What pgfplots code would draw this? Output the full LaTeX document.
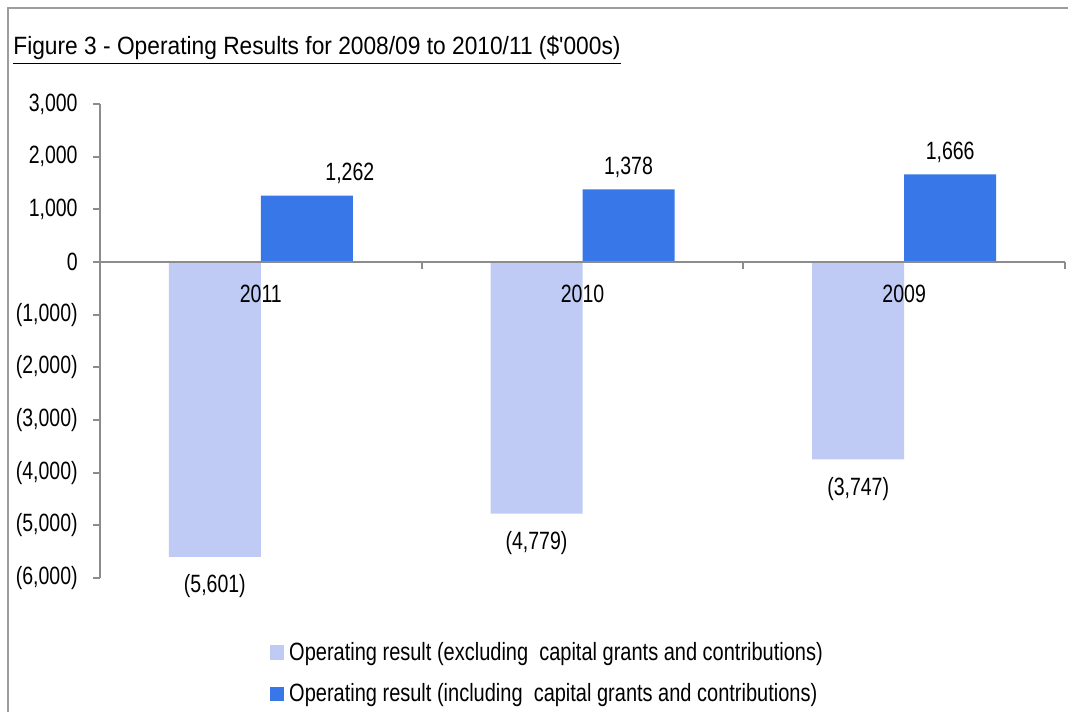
\documentclass[border=0pt]{standalone}
\usepackage{pgfplots}
\usepackage{pgfplotstable}
\pgfplotsset{compat=1.18}
\usepackage{fontspec}
\setmainfont{Liberation Sans}[FakeStretch=0.78]
\newfontfamily\titlefont{Liberation Sans}[FakeStretch=0.91]
\newfontfamily\legendfont{Liberation Sans}[FakeStretch=0.80]
\definecolor{lightbar}{HTML}{C0CBF5}
\definecolor{darkbar}{HTML}{3877E8}
\definecolor{axisgray}{HTML}{8C8C8C}
\newcommand{\chartfont}{\fontsize{12.5bp}{15bp}\selectfont}

\pgfplotstableread{
x y lab dx
0 -5601 (5,601) 0
1 -4779 (4,779) 0
2 -3747 (3,747) 0
}\excl
\pgfplotstableread{
x y lab dx
0 1262 1,262 21.5
1 1378 1,378 0
2 1666 1,666 0
}\incl

\begin{document}
\begin{tikzpicture}
\useasboundingbox (0bp,0bp) rectangle (534bp,356bp);
\draw[color=axisgray!85, line width=1bp] (4bp,0bp) -- (4bp,352bp) -- (534bp,352bp);
\node[anchor=base west, inner sep=0pt, font=\titlefont\fontsize{12.5bp}{15bp}\selectfont] at (6.5bp,328.5bp)
  {\underline{Figure 3 - Operating Results for 2008/09 to 2010/11 (\$'000s)}};
\begin{axis}[
  at={(50bp,67bp)}, anchor=south west,
  scale only axis, width=482.5bp, height=237bp,
  ybar=0pt, bar width=46bp,
  ymin=-6000, ymax=3000, xmin=-0.5, xmax=2.5,
  axis y line*=left, axis x line*=middle,
  axis on top,
  hide obscured x ticks=false, hide obscured y ticks=false,
  axis line style={color=axisgray, line width=1bp},
  ytick={-6000,-5000,-4000,-3000,-2000,-1000,0,1000,2000,3000},
  yticklabels={{(6,000)},{(5,000)},{(4,000)},{(3,000)},{(2,000)},{(1,000)},0,{1,000},{2,000},{3,000}},
  xtick={0,1,2}, xticklabels={2011,2010,2009},
  minor xtick={0.5,1.5,2.5},
  major x tick style={draw=none},
  minor x tick style={color=axisgray, line width=1bp},
  y tick style={color=axisgray, line width=1bp},
  tick align=outside, major tick length=3.5bp, minor tick length=3.5bp,
  ytick pos=left,
  ticklabel style={font=\chartfont, text=black},
  yticklabel style={anchor=east, inner sep=0pt, xshift=-7.5bp},
  xticklabel style={anchor=base, inner sep=0pt, yshift=-16.5bp},
  legend style={at={(0.176,-0.135)}, anchor=north west, draw=none, fill=none,
    inner sep=0pt, row sep=10bp, font=\legendfont\chartfont,
    nodes={inner sep=0pt, anchor=base west},
    /tikz/every odd column/.append style={column sep=2.5bp}},
  legend cell align=left,
  legend image code/.code={\fill[#1] (0bp,0.5bp) rectangle (7bp,7.5bp);},
  clip=false,
]
\addplot[fill=lightbar, draw=none,
  nodes near coords, point meta=explicit symbolic,
  visualization depends on={\thisrow{dx} \as \dx},
  every node near coord/.append style={font=\chartfont, text=black, inner sep=0pt, anchor=base, yshift=-18bp, xshift=\dx bp}]
  table[x=x, y=y, meta=lab] {\excl};
\addlegendentry{Operating result (excluding\ \ capital grants and contributions)}
\addplot[fill=darkbar, draw=none,
  nodes near coords, point meta=explicit symbolic,
  visualization depends on={\thisrow{dx} \as \dx},
  every node near coord/.append style={font=\chartfont, text=black, inner sep=0pt, anchor=base, yshift=7.5bp, xshift=\dx bp}]
  table[x=x, y=y, meta=lab] {\incl};
\addlegendentry{Operating result (including\ \ capital grants and contributions)}
\end{axis}
\end{tikzpicture}
\end{document}
